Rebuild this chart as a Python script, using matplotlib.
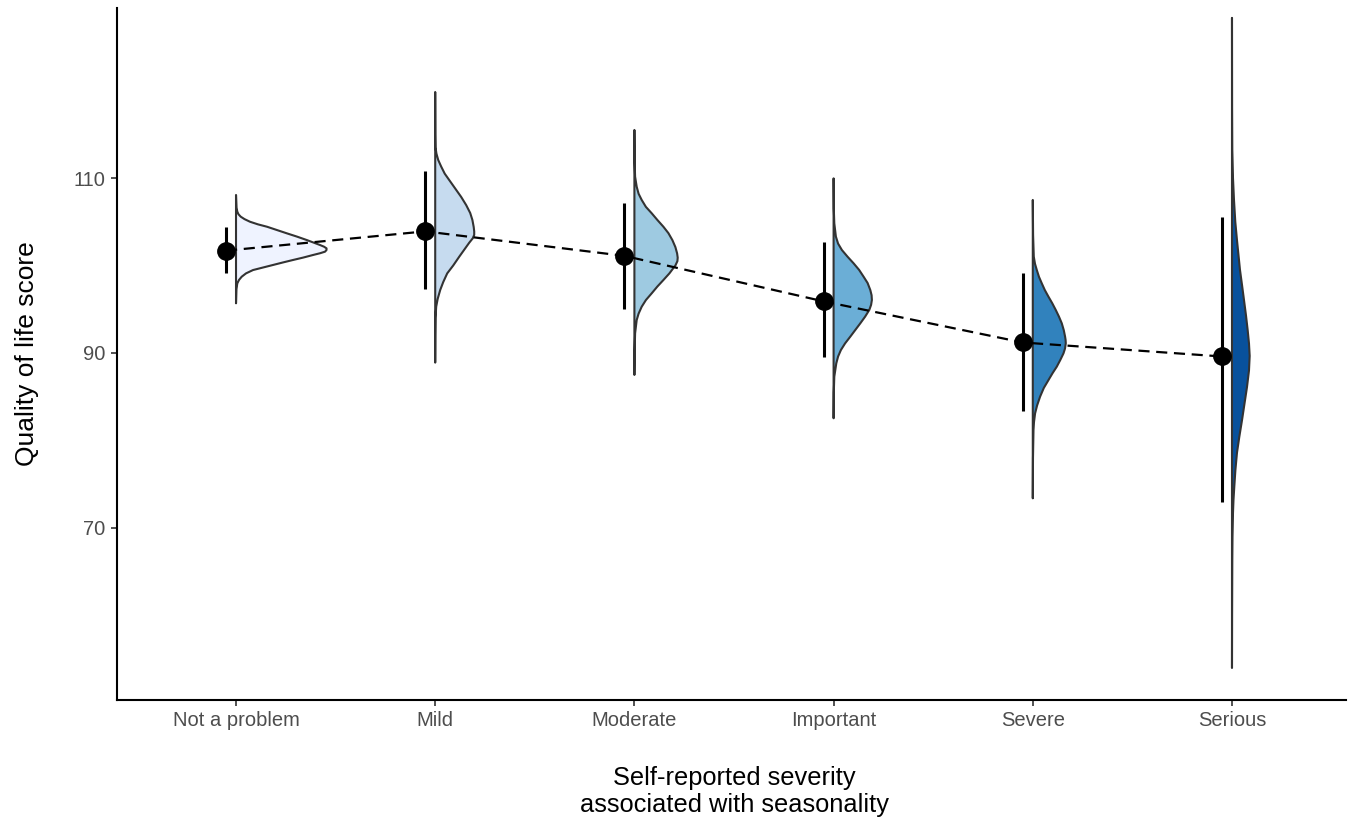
import matplotlib
matplotlib.use("Agg")
import matplotlib.pyplot as plt

# カテゴリと要約値
categories = ["Not a problem", "Mild", "Moderate", "Important", "Severe", "Serious"]
means = [101.7, 103.9, 101.1, 95.9, 91.2, 89.6]
ci_low = [99.1, 97.3, 95.0, 89.5, 83.4, 73.0]
ci_high = [104.4, 110.8, 107.2, 102.7, 99.1, 105.5]
colors = ["#EFF3FF", "#C6DBEF", "#9ECAE1", "#6BAED6", "#3182BD", "#08519C"]

# 半バイオリンの輪郭（スコア, 相対密度）
v1_y = [108.06, 106.6, 106.15, 105.85, 105.58, 105.3, 105.0, 104.7, 104.43, 104.05, 103.67, 103.3, 102.9, 102.6,
        102.34, 102.15, 101.96, 101.77, 101.58, 101.4, 101.2, 100.9, 100.63, 100.35, 100.06, 99.77, 99.48, 99.1,
        98.72, 98.35, 97.96, 97.3, 95.68]
v1_d = [0, 0.5, 1.3, 2.5, 4.7, 8.5, 14, 22, 31, 41, 51, 61, 71, 78,
        84, 88, 90.5, 90.5, 89, 84, 77, 67, 57, 47, 37, 27, 17, 10,
        5.7, 3, 1.3, 0.4, 0]
v2_y = [119.83, 115, 113.5, 112.8, 112.06, 111.3, 110.5, 109.77, 108.8, 107.83, 106.9, 106.0, 105.2, 104.4, 103.9,
        103.5, 103.1, 102.6, 101.8, 101.0, 100.0, 99.1, 98.1, 97.2, 96.2, 95.3, 94.0, 92, 88.9]
v2_d = [0, 0.1, 0.3, 1.2, 3, 6, 9.5, 14, 20, 26, 31, 35, 37.2, 38.5, 39,
        39, 37.5, 34, 29, 24, 18, 12, 8, 5, 2.5, 1, 0.3, 0.1, 0]
v3_y = [115.49, 112, 110.15, 109.0, 108.2, 107.49, 106.7, 105.97, 105.2, 104.43, 103.7, 102.9, 102.1, 101.39, 100.9,
        100.5, 100.0, 99.86, 99.1, 98.34, 97.6, 96.82, 96.05, 95.29, 94.5, 93.77, 92.25, 90, 87.49]
v3_d = [0, 0.2, 0.7, 2.3, 4.2, 7.3, 11.5, 17.3, 23, 29, 34, 38, 41, 42.7, 43.3,
        43, 41, 40, 35, 29, 23, 17.3, 11.5, 7.3, 4.2, 2.3, 0.7, 0.2, 0]
v4_y = [109.96, 106.5, 104.82, 103.3, 102.5, 101.77, 101.0, 100.25, 99.5, 98.72, 98.0, 97.2, 96.6, 96.06, 95.5,
        94.92, 94.15, 93.39, 92.6, 91.87, 91.1, 90.34, 89.6, 88.82, 87.29, 85.5, 82.54]
v4_d = [0, 0.2, 0.7, 2.3, 4.5, 8.3, 14, 20, 25.5, 30, 34, 36.7, 38, 38.3, 37.5,
        35.7, 31.5, 26.7, 21.5, 16.7, 11.5, 7.3, 4.5, 2.7, 0.7, 0.2, 0]
v5_y = [107.49, 103.5, 101.01, 100.2, 99.49, 98.7, 97.96, 97.2, 96.43, 95.7, 94.91, 94.15, 93.39, 92.6, 91.87, 91.5,
        91.11, 90.5, 89.96, 89.2, 88.44, 87.7, 86.91, 86.0, 85.01, 84.0, 83.1, 82.1, 81.2, 78, 73.39]
v5_d = [0, 0.3, 1, 2.2, 4, 6.2, 9, 12, 15.7, 19.4, 23, 26.2, 29, 31, 32.3, 32.8,
        33, 32.2, 30.7, 27.5, 24, 19.8, 15.7, 11, 7.3, 4.3, 2.3, 1.2, 0.7, 0.2, 0]
v6_y = [128.3, 118, 113.2, 110, 107.5, 105, 102.9, 101.2, 99.5, 97.8, 96.06, 94.3, 92.6, 91.1, 89.66, 88.0,
        86.1, 84.2, 82.3, 80.4, 78.6, 76.6, 74.7, 73.2, 71.7, 69, 66.3, 60, 54.0]
v6_d = [0, 0.1, 0.3, 1, 2, 3.3, 5, 6.5, 8, 10, 12, 14, 15.7, 17, 17.7, 17,
        15, 12.5, 10, 7.3, 5, 3.4, 2.3, 1.5, 1, 0.5, 0.3, 0.1, 0]

violins = [(v1_y, v1_d), (v2_y, v2_d), (v3_y, v3_d), (v4_y, v4_d), (v5_y, v5_d), (v6_y, v6_d)]

plt.rcParams["font.family"] = ["Liberation Sans", "DejaVu Sans"]

fig = plt.figure(figsize=(13.6, 8.19), dpi=100, facecolor="white")
ax = fig.add_axes([116.5 / 1360, 119 / 819, 1235 / 1360, 692 / 819])

pos = list(range(1, len(categories) + 1))
dodge = 0.05
wscale = 1 / 199.2

# バイオリン
for i, (vy, vd) in enumerate(violins):
    x0 = pos[i]
    xs = [x0 + d * wscale for d in vd] + [x0]
    ys = list(vy) + [vy[0]]
    ax.fill(xs, ys, facecolor=colors[i], edgecolor="#333333", linewidth=1.5, zorder=2, joinstyle="round")

# 平均の点線
px = [p - dodge for p in pos]
ax.plot(px, means, color="black", linestyle=(0, (5, 3)), linewidth=1.6, zorder=3)

# エラーバーと点
ax.vlines(px, ci_low, ci_high, color="black", linewidth=2.2, zorder=4)
ax.plot(px, means, "o", color="black", markersize=12.5, zorder=5)

ax.set_xlim(0.4, 6.6)
ax.set_ylim(50.34, 129.43)
ax.set_xticks(pos)
ax.set_xticklabels(categories)
ax.set_yticks([70, 90, 110])

for s in ["top", "right"]:
    ax.spines[s].set_visible(False)
for s in ["left", "bottom"]:
    ax.spines[s].set_linewidth(1.5)
    ax.spines[s].set_color("black")
ax.spines["bottom"].set_bounds(0.4, 6.57)

ax.tick_params(axis="both", length=4, width=1.2, color="#333333", labelcolor="#4D4D4D", labelsize=14.5, pad=4)

ax.set_xlabel("Self-reported severity\nassociated with seasonality", fontsize=18.3, labelpad=26, linespacing=1.12)
ax.set_ylabel("Quality of life score", fontsize=19, labelpad=25)

fig.savefig("out.png", dpi=100, facecolor="white")
